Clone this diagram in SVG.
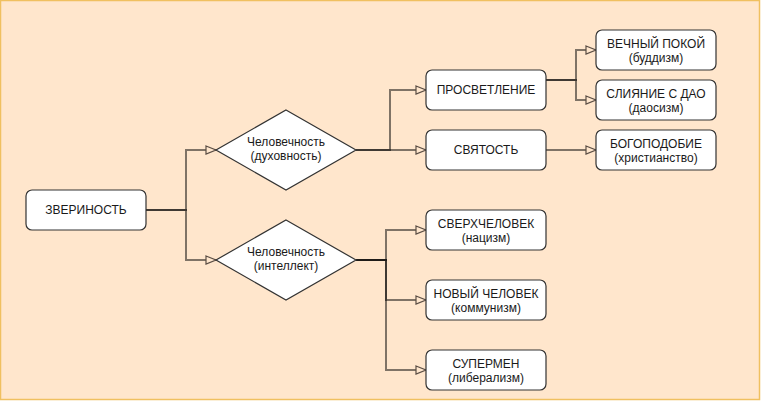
<svg xmlns="http://www.w3.org/2000/svg" width="761" height="401" viewBox="0 0 761 401">
<defs>
<style>
.bx{fill:#fff;stroke:#333;stroke-width:1.2}
.t{font-family:"Liberation Sans",Arial,sans-serif;font-size:12px;fill:#1a1a1a;text-anchor:middle}
.e{fill:none;stroke:#000;stroke-opacity:0.5;stroke-width:2}
</style>
<marker id="ar" viewBox="0 0 12 10" refX="11" refY="5" markerWidth="12" markerHeight="10" markerUnits="userSpaceOnUse" orient="auto">
<path d="M1,1 L11,5 L1,9 Z" fill="#ffe6cc" stroke="#5a4d44" stroke-width="1.2"/>
</marker>
</defs>
<rect x="0.5" y="0.5" width="759" height="399" fill="#ffe6cc" stroke="#f0c060" stroke-width="1.5"/>
<g id="connectors">
<path class="e" d="M146,210 H186 V150 H216" marker-end="url(#ar)"/>
<path class="e" d="M146,210 H186 V260 H216" marker-end="url(#ar)"/>
<path class="e" d="M356,150 H390 V90 H426" marker-end="url(#ar)"/>
<path class="e" d="M356,150 H426" marker-end="url(#ar)"/>
<path class="e" d="M546,80 H576 V50 H596" marker-end="url(#ar)"/>
<path class="e" d="M546,80 H576 V100 H596" marker-end="url(#ar)"/>
<path class="e" d="M546,150 H596" marker-end="url(#ar)"/>
<path class="e" d="M356,260 H386 V230 H426" marker-end="url(#ar)"/>
<path class="e" d="M356,260 H386 V300 H426" marker-end="url(#ar)"/>
<path class="e" d="M356,260 H386 V370 H426" marker-end="url(#ar)"/>
</g>
<g id="zverinost"><rect class="bx" x="26" y="190" width="120" height="40" rx="6"/><text class="t" x="86" y="214.3">ЗВЕРИНОСТЬ</text></g>
<g id="chel-duh"><path class="bx" d="M286,110 L356,150 L286,190 L216,150 Z"/><text class="t" x="286" y="146">Человечность</text><text class="t" x="286" y="160">(духовность)</text></g>
<g id="chel-int"><path class="bx" d="M286,220 L356,260 L286,300 L216,260 Z"/><text class="t" x="286" y="256">Человечность</text><text class="t" x="286" y="270">(интеллект)</text></g>
<g id="prosvetlenie"><rect class="bx" x="426" y="70" width="120" height="40" rx="6"/><text class="t" x="486" y="94.3">ПРОСВЕТЛЕНИЕ</text></g>
<g id="svyatost"><rect class="bx" x="426" y="130" width="120" height="40" rx="6"/><text class="t" x="486" y="154.3">СВЯТОСТЬ</text></g>
<g id="vechny"><rect class="bx" x="596" y="30" width="120" height="40" rx="6"/><text class="t" x="656" y="47.5">ВЕЧНЫЙ ПОКОЙ</text><text class="t" x="656" y="61.7">(буддизм)</text></g>
<g id="sliyanie"><rect class="bx" x="596" y="80" width="120" height="40" rx="6"/><text class="t" x="656" y="97.5">СЛИЯНИЕ С ДАО</text><text class="t" x="656" y="111.7">(даосизм)</text></g>
<g id="bogopodobie"><rect class="bx" x="596" y="130" width="120" height="40" rx="6"/><text class="t" x="656" y="147.5">БОГОПОДОБИЕ</text><text class="t" x="656" y="161.7">(христианство)</text></g>
<g id="sverh"><rect class="bx" x="426" y="210" width="120" height="40" rx="6"/><text class="t" x="486" y="227.5">СВЕРХЧЕЛОВЕК</text><text class="t" x="486" y="241.7">(нацизм)</text></g>
<g id="novy"><rect class="bx" x="426" y="280" width="120" height="40" rx="6"/><text class="t" x="486" y="297.5">НОВЫЙ ЧЕЛОВЕК</text><text class="t" x="486" y="311.7">(коммунизм)</text></g>
<g id="supermen"><rect class="bx" x="426" y="350" width="120" height="40" rx="6"/><text class="t" x="486" y="367.5">СУПЕРМЕН</text><text class="t" x="486" y="381.7">(либерализм)</text></g>
</svg>
